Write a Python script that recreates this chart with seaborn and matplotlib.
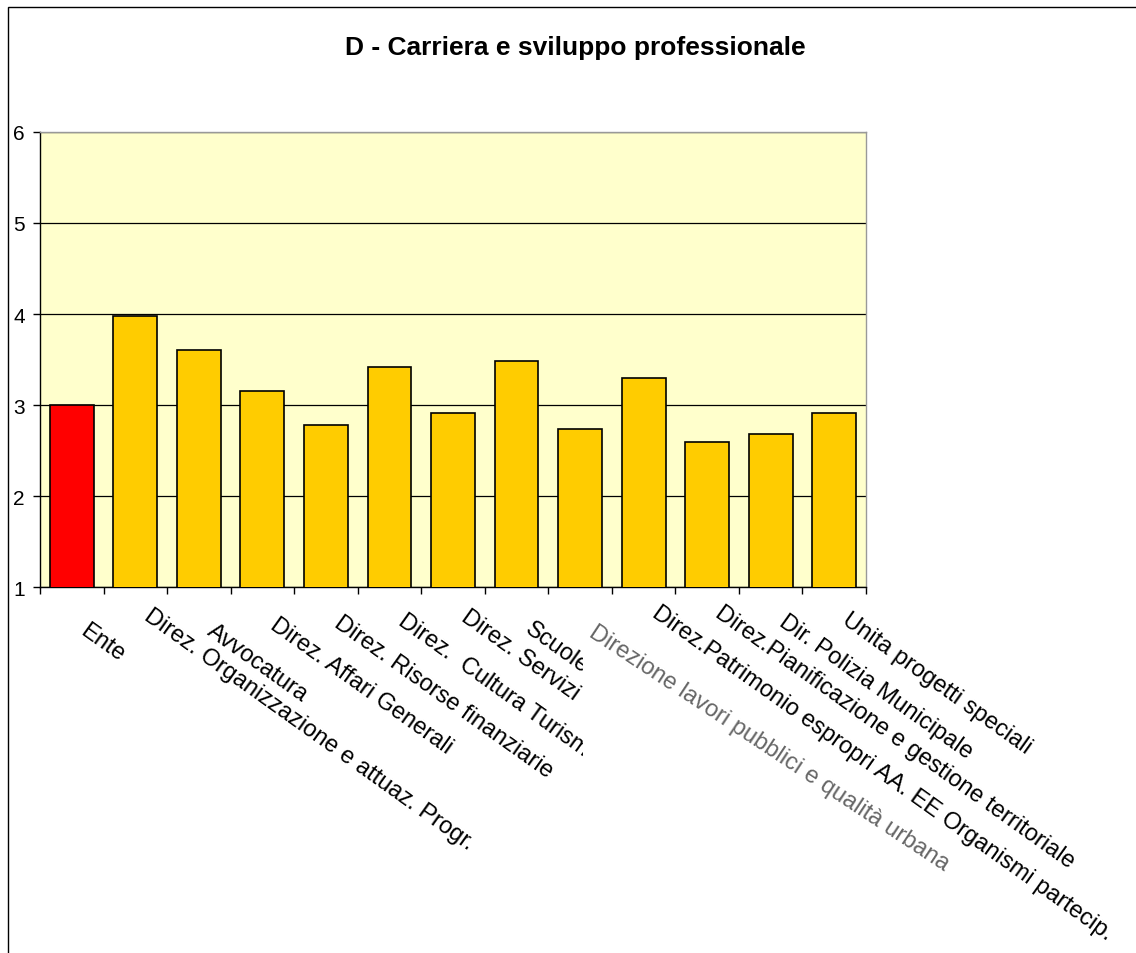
import numpy as np
import pandas as pd
import seaborn as sns
import matplotlib.pyplot as plt
import matplotlib.transforms as mtransforms
from matplotlib.patches import Rectangle

# Data
categories = [
    "Ente",
    "Direz. Organizzazione e attuaz. Progr.",
    "Avvocatura",
    "Direz. Affari Generali",
    "Direz. Risorse finanziarie",
    "Direz.  Cultura Turismo",
    "Direz. Servizi",
    "Scuole",
    "Direzione lavori pubblici e qualità urbana",
    "Direz.Patrimonio espropri AA. EE Organismi partecip.",
    "Direz.Pianificazione e gestione territoriale",
    "Dir. Polizia Municipale",
    "Unita progetti speciali",
]
values = [3.00, 3.98, 3.60, 3.15, 2.78, 3.42, 2.91, 3.48, 2.74, 3.30, 2.59, 2.68, 2.91]
bar_colors = ["#FF0000"] + ["#FFCC00"] * 12
clipped = {"Direz.  Cultura Turismo", "Direz. Servizi", "Scuole"}

# vertical drop (px) of each rotated label below the axis, as in the original
label_drop = [32, 17, 32, 26, 24, 22.5, 18.5, 30, 34, 14.5, 14.5, 23.5, 21.5]

df = pd.DataFrame({"area": categories, "score": values})

sns.set_theme(style="white")
plt.rcParams["font.family"] = ["Liberation Sans", "DejaVu Sans"]
plt.rcParams["text.color"] = "black"
plt.rcParams["ytick.color"] = "black"

fig = plt.figure(figsize=(11.36, 9.54), dpi=100)
ax = fig.add_axes([0.0352, 0.3836, 0.7271, 0.4770])

sns.barplot(data=df, x="area", y="score", hue="area", palette=bar_colors,
            legend=False, width=0.69, edgecolor="black", linewidth=1.2,
            saturation=1, ax=ax, zorder=3)

ax.set_facecolor("#FFFFCC")
ax.set_ylim(1, 6)
ax.set_xlim(-0.5, len(categories) - 0.5)
ax.set_yticks([1, 2, 3, 4, 5, 6])
ax.yaxis.grid(True, color="black", linewidth=0.9, zorder=0)
ax.set_axisbelow(True)
ax.set_xlabel("")
ax.set_ylabel("")

for side in ["top", "right"]:
    ax.spines[side].set_color("#999999")
    ax.spines[side].set_linewidth(1.0)
for side in ["left", "bottom"]:
    ax.spines[side].set_color("black")
    ax.spines[side].set_linewidth(1.0)

ax.tick_params(axis="y", which="both", left=True, length=5, width=1,
               color="black", labelsize=15, pad=6, labelcolor="black")
ax.set_xticks(np.arange(-0.5, len(categories)), minor=False)
ax.set_xticklabels([])
ax.tick_params(axis="x", bottom=True, length=5, width=1, color="black")

# rotated category labels (some are cut off in the original)
clip_box = mtransforms.TransformedBbox(
    mtransforms.Bbox([[0, 0], [583 / 1136, 1]]), fig.transFigure)
for i, lab in enumerate(categories):
    faded = lab.startswith("Direzione lavori")
    offset = mtransforms.ScaledTranslation(17 / 100, -label_drop[i] / 100,
                                           fig.dpi_scale_trans)
    t = ax.text(i, 0, lab, transform=ax.get_xaxis_transform() + offset,
                rotation=-33.5 if faded else -35.5, rotation_mode="anchor",
                ha="left", va="top", fontsize=17,
                color="#666666" if faded else "black", clip_on=False)
    if lab in clipped:
        t.set_clip_path(None)
        t.set_clip_box(clip_box)
        t.set_clip_on(True)

fig.text(0.506, 0.950, "D - Carriera e sviluppo professionale",
         ha="center", va="center", fontsize=19, fontweight="bold",
         color="black")

# outer chart frame
fig.add_artist(Rectangle((8 / 1136, -0.01), 1.0, 1 - 8 / 954 + 0.01,
                         transform=fig.transFigure, fill=False,
                         edgecolor="black", linewidth=1.0))

fig.savefig("out.png", dpi=100)
